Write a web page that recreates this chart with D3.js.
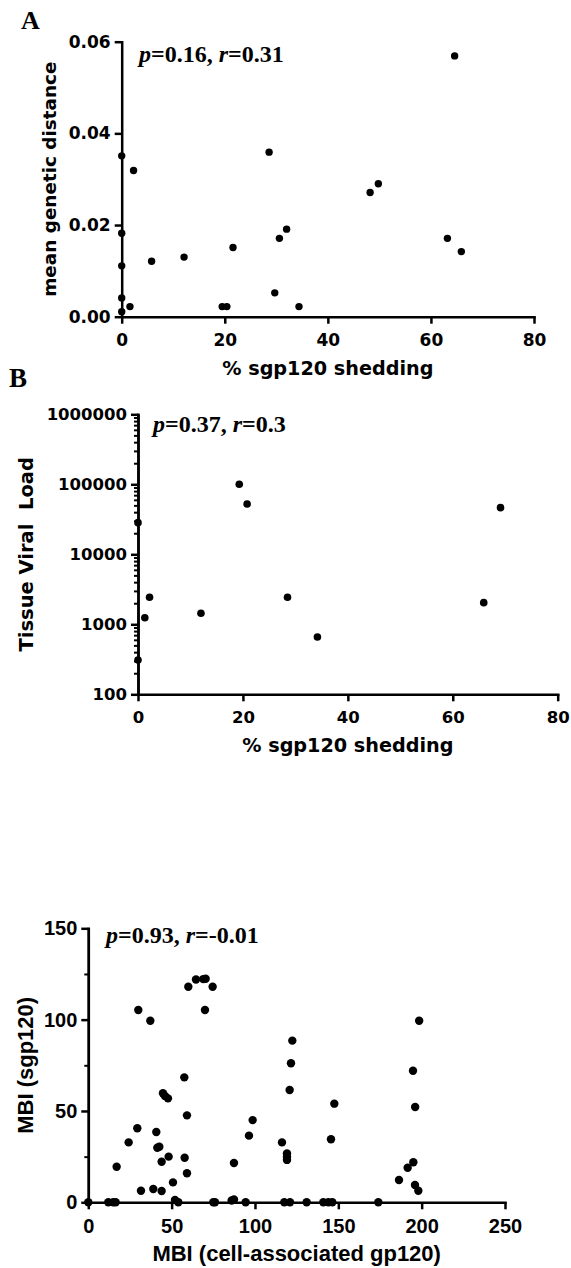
<!DOCTYPE html>
<html>
<head>
<meta charset="utf-8">
<script src="https://cdn.jsdelivr.net/npm/d3@7"></script>
<style>
  body { margin: 0; background: #fff; }
  svg { display: block; }
  .axis path, .axis line { stroke: #000; stroke-width: 2.5px; }
  .axis text { font-weight: bold; fill: #000; }
  .wide { font-family: "DejaVu Sans", sans-serif; }
  .narrow { font-family: "Liberation Sans", Arial, sans-serif; }
  .title { font-weight: bold; fill: #000; }
  .ann { font-family: "Liberation Serif", "Times New Roman", serif; font-weight: bold; fill: #000; }
  .plabel { font-family: "Liberation Serif", "Times New Roman", serif; font-weight: bold; fill: #000; }
</style>
</head>
<body>
<script>
// ---------- Panel A data ----------
const shedA = [0, 0, 0, 0, 0, 1.6, 2.3, 5.8, 12.1, 19.5, 20.4, 21.6, 28.6, 29.7, 30.6, 32.0, 34.4, 48.2, 49.8, 63.2, 64.6, 65.9];
const distA = [0.0351, 0.0182, 0.0111, 0.0041, 0.0011, 0.0022, 0.0319, 0.0121, 0.0130, 0.0022, 0.0022, 0.0151, 0.0359, 0.0052, 0.0171, 0.0191, 0.0022, 0.0271, 0.0290, 0.0171, 0.0569, 0.0142];
const xTicksA = [0, 20, 40, 60, 80];
const yTicksA = [0, 0.02, 0.04, 0.06];

// ---------- Panel B data ----------
const shedB = [0, 0, 1.3, 2.2, 12.0, 19.3, 20.8, 28.5, 34.2, 65.9, 69.1];
const loadB = [309, 28300, 1242, 2432, 1436, 100000, 52400, 2432, 659, 2037, 46400];
const xTicksB = [0, 20, 40, 60, 80];
const yTicksB = [100, 1000, 10000, 100000, 1000000];

// ---------- Panel C data ----------
const mbiCell = [17.0, 24.2, 29.4, 30.0, 37.2, 31.6, 39.0, 44.0, 40.8, 41.4, 42.6, 44.0, 48.2, 44.8, 46.0, 47.8, 50.8, 52.0,
  57.6, 59.2, 57.8, 59.2, 60.0, 64.6, 69.0, 70.4, 70.0, 74.6, 87.4, 96.4, 98.6, 116.2, 119.2, 119.2, 119.2, 120.8, 121.6, 122.4,
  145.6, 147.6, 186.4, 191.6, 195.0, 196.0, 198.0, 194.8, 196.1, 198.5,
  0, 12, 15, 16.4, 54, 75, 76, 86, 87.4, 94.4, 117.6, 121, 131, 141, 144, 146.4, 174];
const mbiSgp = [19.5, 32.8, 40.5, 105.3, 99.4, 6.3, 7.3, 6.2, 38.5, 29.9, 30.4, 22.2, 25.0, 59.7, 58.2, 56.9, 10.9, 1.3,
  68.4, 47.6, 24.4, 15.9, 118.0, 122.0, 122.2, 122.4, 105.3, 118.0, 21.5, 36.5, 45.0, 32.8, 26.8, 25.0, 23.2, 61.5, 76.1, 88.5,
  34.5, 54.0, 12.2, 18.9, 21.9, 9.5, 6.3, 72.0, 52.2, 99.4,
  0, 0, 0, 0, 0, 0, 0, 1, 1.5, 0, 0, 0, 0, 0, 0, 0, 0];
const xTicksC = [0, 50, 100, 150, 200, 250];
const yTicksC = [0, 50, 100, 150];
const yMinorC = [25, 75, 125];

const svg = d3.select("body").append("svg").attr("width", 571).attr("height", 1268);
svg.append("rect").attr("width", 571).attr("height", 1268).attr("fill", "#fff");

function styleAxis(g, size, fam) {
  g.attr("class", "axis " + fam);
  g.attr("font-family", null);
  g.selectAll("text").style("font-size", size + "px");
  g.select(".domain").attr("stroke-linecap", "square");
}

function annotate(x, y, size, pv, rv) {
  const t = svg.append("text").attr("class", "ann").attr("x", x).attr("y", y).style("font-size", size + "px");
  t.append("tspan").attr("font-style", "italic").text("p");
  t.append("tspan").text("=" + pv + ", ");
  t.append("tspan").attr("font-style", "italic").text("r");
  t.append("tspan").text("=" + rv);
}

// ================= Panel A =================
const xA = d3.scaleLinear().domain([0, 80]).range([121.7, 534]);
const yA = d3.scaleLinear().domain([0, 0.06]).range([316.7, 41.7]);

svg.append("text").attr("class", "plabel").attr("x", 21).attr("y", 29).style("font-size", "26px").text("A");

svg.append("g").attr("transform", `translate(0,${yA(0)})`)
  .call(d3.axisBottom(xA).tickValues(xTicksA).tickSize(7).tickSizeOuter(0).tickPadding(10).tickFormat(d3.format("d")))
  .call(g => styleAxis(g, 17, "wide"));
svg.append("g").attr("transform", `translate(${xA(0)},0)`)
  .call(d3.axisLeft(yA).tickValues(yTicksA).tickSize(7).tickSizeOuter(0).tickPadding(4).tickFormat(d3.format(".2f")))
  .call(g => styleAxis(g, 17, "wide"));

svg.append("g").selectAll("circle").data(d3.range(shedA.length)).join("circle")
  .attr("cx", i => xA(shedA[i])).attr("cy", i => yA(distA[i])).attr("r", 3.7).attr("fill", "#000");

annotate(139, 61.5, 24, "0.16", "0.31");

svg.append("text").attr("class", "title wide").attr("text-anchor", "middle")
  .attr("transform", `translate(56,${(yA.range()[0] + yA.range()[1]) / 2}) rotate(-90)`)
  .style("font-size", "18.4px").text("mean genetic distance");
svg.append("text").attr("class", "title wide").attr("text-anchor", "middle")
  .attr("x", (xA.range()[0] + xA.range()[1]) / 2).attr("y", 375)
  .style("font-size", "19.2px").text("% sgp120 shedding");

// ================= Panel B =================
const xB = d3.scaleLinear().domain([0, 80]).range([138, 557.7]);
const yB = d3.scaleLog().domain([100, 1000000]).range([694.3, 414.3]);

svg.append("text").attr("class", "plabel").attr("x", 9).attr("y", 387).style("font-size", "27px").text("B");

// minor ticks on log axis
const minorB = [];
for (let e = 2; e < 6; e++) for (let m = 2; m <= 9; m++) minorB.push(m * Math.pow(10, e));
svg.append("g").attr("transform", `translate(${xB(0)},0)`)
  .call(d3.axisLeft(yB).tickValues(minorB).tickSize(4).tickSizeOuter(0).tickFormat(""))
  .call(g => { g.attr("class", "axis"); g.selectAll("line").style("stroke-width", "2px"); });

svg.append("g").attr("transform", `translate(0,${yB(100)})`)
  .call(d3.axisBottom(xB).tickValues(xTicksB).tickSize(7).tickSizeOuter(0).tickPadding(10).tickFormat(d3.format("d")))
  .call(g => styleAxis(g, 16.5, "wide"));
svg.append("g").attr("transform", `translate(${xB(0)},0)`)
  .call(d3.axisLeft(yB).tickValues(yTicksB).tickSize(7).tickSizeOuter(0).tickPadding(4).tickFormat(d3.format("d")))
  .call(g => styleAxis(g, 16.5, "wide"));

svg.append("g").selectAll("circle").data(d3.range(shedB.length)).join("circle")
  .attr("cx", i => xB(shedB[i])).attr("cy", i => yB(loadB[i])).attr("r", 3.8).attr("fill", "#000");

annotate(153, 432, 24, "0.37", "0.3");

svg.append("text").attr("class", "title wide").attr("text-anchor", "middle")
  .attr("transform", `translate(33,${(yB.range()[0] + yB.range()[1]) / 2}) rotate(-90)`)
  .style("font-size", "19.5px").style("white-space", "pre").text("Tissue Viral  Load");
svg.append("text").attr("class", "title wide").attr("text-anchor", "middle")
  .attr("x", (xB.range()[0] + xB.range()[1]) / 2).attr("y", 752)
  .style("font-size", "19.2px").text("% sgp120 shedding");

// ================= Panel C =================
const xC = d3.scaleLinear().domain([0, 250]).range([88.3, 505]);
const yC = d3.scaleLinear().domain([0, 150]).range([1202.3, 928.3]);

svg.append("g").attr("transform", `translate(${xC(0)},0)`)
  .call(d3.axisLeft(yC).tickValues(yMinorC).tickSize(4).tickSizeOuter(0).tickFormat(""))
  .call(g => { g.attr("class", "axis"); g.selectAll("line").style("stroke-width", "2px"); });

svg.append("g").attr("transform", `translate(0,${yC(0)})`)
  .call(d3.axisBottom(xC).tickValues(xTicksC).tickSize(7).tickSizeOuter(0).tickPadding(10).tickFormat(d3.format("d")))
  .call(g => styleAxis(g, 20, "narrow"));
svg.append("g").attr("transform", `translate(${xC(0)},0)`)
  .call(d3.axisLeft(yC).tickValues(yTicksC).tickSize(7).tickSizeOuter(0).tickPadding(4).tickFormat(d3.format("d")))
  .call(g => styleAxis(g, 20, "narrow"));

svg.append("g").selectAll("circle").data(d3.range(mbiCell.length)).join("circle")
  .attr("cx", i => xC(mbiCell[i])).attr("cy", i => yC(mbiSgp[i])).attr("r", 4.2).attr("fill", "#000");

annotate(106, 943, 24, "0.93", "-0.01");

svg.append("text").attr("class", "title narrow").attr("text-anchor", "middle")
  .attr("transform", `translate(33,${(yC.range()[0] + yC.range()[1]) / 2}) rotate(-90)`)
  .style("font-size", "22px").text("MBI (sgp120)");
svg.append("text").attr("class", "title narrow").attr("text-anchor", "middle")
  .attr("x", (xC.range()[0] + xC.range()[1]) / 2).attr("y", 1261)
  .style("font-size", "22px").text("MBI (cell-associated gp120)");
</script>
</body>
</html>
